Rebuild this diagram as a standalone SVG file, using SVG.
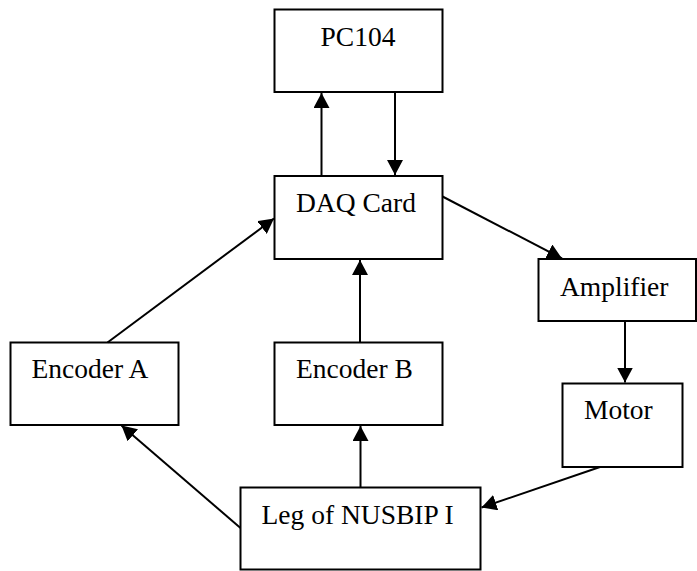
<svg xmlns="http://www.w3.org/2000/svg" width="697" height="571" viewBox="0 0 697 571">
  <style>
    .box { fill: #ffffff; stroke: #000000; stroke-width: 2; }
    .label { font-family: "Liberation Serif", "Times New Roman", serif; font-size: 27.5px; fill: #000000; }
    .wire { fill: none; stroke: #000000; stroke-width: 2; }
  </style>
  <defs>
    <marker id="head" markerUnits="userSpaceOnUse" markerWidth="16" markerHeight="16" refX="15" refY="8" orient="auto">
      <path d="M0,0 L15,8 L0,16 Z" fill="#000000"/>
    </marker>
  </defs>

  <rect width="697" height="571" fill="#ffffff"/>

  <g id="pc104">
    <rect class="box" x="274.5" y="9.5" width="168" height="82.5"/>
    <text class="label" x="320.5" y="45.5">PC104</text>
  </g>

  <g id="daq-card">
    <rect class="box" x="274.5" y="176" width="168" height="83"/>
    <text class="label" x="296" y="212">DAQ Card</text>
  </g>

  <g id="amplifier">
    <rect class="box" x="538.5" y="259" width="157.5" height="62"/>
    <text class="label" x="560" y="296">Amplifier</text>
  </g>

  <g id="motor">
    <rect class="box" x="562.5" y="383.5" width="120" height="83.5"/>
    <text class="label" x="584" y="419">Motor</text>
  </g>

  <g id="encoder-a">
    <rect class="box" x="10.5" y="342.5" width="168" height="82.5"/>
    <text class="label" x="31.5" y="378">Encoder A</text>
  </g>

  <g id="encoder-b">
    <rect class="box" x="274.5" y="342.5" width="168" height="82.5"/>
    <text class="label" x="296" y="378">Encoder B</text>
  </g>

  <g id="leg">
    <rect class="box" x="240.5" y="487.5" width="240" height="82"/>
    <text class="label" x="261.5" y="524">Leg of NUSBIP I</text>
  </g>

  <g id="connectors">
    <line class="wire" x1="321.5" y1="176" x2="321.5" y2="93" marker-end="url(#head)"/>
    <line class="wire" x1="395" y1="92" x2="395" y2="175" marker-end="url(#head)"/>
    <line class="wire" x1="442.5" y1="196.5" x2="562" y2="258.5" marker-end="url(#head)"/>
    <line class="wire" x1="625" y1="321" x2="625" y2="382.5" marker-end="url(#head)"/>
    <line class="wire" x1="600" y1="467" x2="481.5" y2="507.5" marker-end="url(#head)"/>
    <line class="wire" x1="360.5" y1="487.5" x2="360.5" y2="426" marker-end="url(#head)"/>
    <line class="wire" x1="240.5" y1="528" x2="121.5" y2="425.5" marker-end="url(#head)"/>
    <line class="wire" x1="107.5" y1="342.5" x2="274" y2="218.5" marker-end="url(#head)"/>
    <line class="wire" x1="360" y1="342.5" x2="360" y2="260" marker-end="url(#head)"/>
  </g>
</svg>
